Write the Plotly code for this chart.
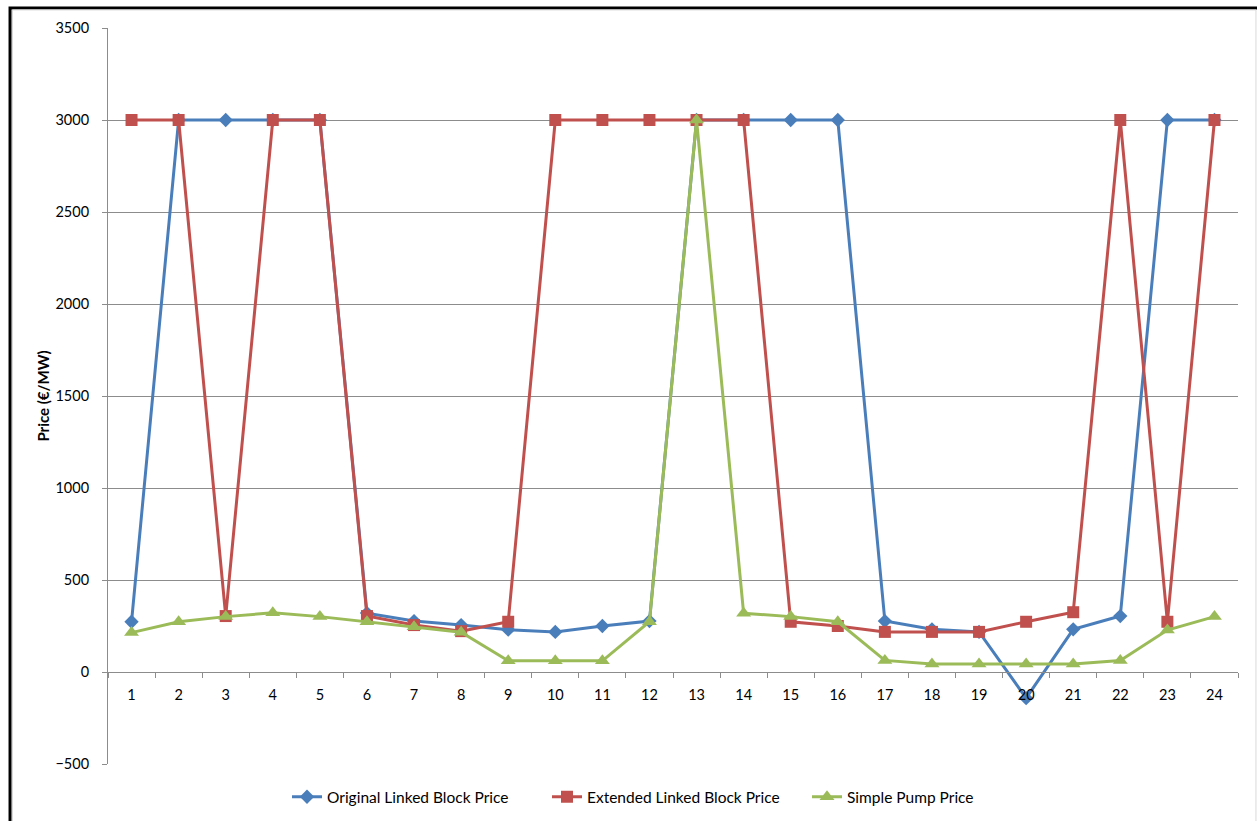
import plotly.graph_objects as go

# Hourly prices for the three pricing schemes (€/MW)
hours = list(range(1, 25))
hour_labels = [str(h) for h in hours]

original_linked_block = [273, 3000, 3000, 3000, 3000, 320, 277, 255, 230, 218, 250, 277,
                         3000, 3000, 3000, 3000, 277, 232, 218, -142, 232, 304, 3000, 3000]
extended_linked_block = [3000, 3000, 304, 3000, 3000, 304, 255, 222, 273, 3000, 3000, 3000,
                         3000, 3000, 273, 250, 218, 218, 218, 273, 325, 3000, 273, 3000]
simple_pump = [214, 273, 301, 322, 301, 273, 246, 216, 61, 61, 61, 273,
               3000, 319, 301, 273, 63, 43, 43, 43, 43, 63, 228, 301]

y_ticks = [-500, 0, 500, 1000, 1500, 2000, 2500, 3000, 3500]

FONT = "Lato"
GRID = "#8c8c8c"

series = [
    ("Original Linked Block Price", original_linked_block, "#4A7EBB", "diamond", 11),
    ("Extended Linked Block Price", extended_linked_block, "#C0504D", "square", 12),
    ("Simple Pump Price", simple_pump, "#9BBB59", "triangle-up", 13),
]

fig = go.Figure()
for name, values, color, symbol, size in series:
    fig.add_trace(go.Scatter(
        x=hours, y=values, name=name, mode="lines+markers",
        line=dict(color=color, width=3),
        marker=dict(symbol=symbol, size=size, color=color),
    ))

# carrier trace so the tick-mark axis is rendered
fig.add_trace(go.Scatter(x=[None], y=[None], xaxis="x2", showlegend=False,
                         hoverinfo="skip"))

zero_pos = (0 - y_ticks[0]) / (y_ticks[-1] - y_ticks[0])
x_range = [0.5, len(hours) + 0.5]

fig.update_layout(
    width=1257, height=821,
    margin=dict(l=108, r=19, t=28, b=57, autoexpand=False),
    paper_bgcolor="white", plot_bgcolor="white",
    font=dict(family=FONT, size=14, color="#000000"),
    showlegend=True,
    legend=dict(orientation="h", xref="container", yref="container",
                x=287 / 1257, y=0.029, xanchor="left", yanchor="middle",
                font=dict(family=FONT, size=15.5), itemwidth=30,
                entrywidth=215, entrywidthmode="pixels",
                bgcolor="rgba(0,0,0,0)"),
    xaxis=dict(range=x_range, tickmode="array", tickvals=hours, ticktext=hour_labels,
               anchor="free", position=zero_pos, showgrid=False, zeroline=False,
               showline=False, ticks="", ticklabelstandoff=12,
               tickfont=dict(family=FONT, size=14.5)),
    xaxis2=dict(range=x_range, overlaying="x", anchor="free", position=zero_pos,
                tickmode="array", tickvals=[h + 0.5 for h in [0] + hours],
                showticklabels=False, ticks="outside", ticklen=5, tickcolor=GRID,
                showline=True, linecolor=GRID, linewidth=1, showgrid=False,
                zeroline=False),
    yaxis=dict(range=[y_ticks[0], y_ticks[-1]], tickmode="array", tickvals=y_ticks,
               showgrid=True, gridcolor=GRID, gridwidth=1, zeroline=False,
               showline=True, linecolor=GRID, linewidth=1,
               ticks="outside", ticklen=5, tickcolor=GRID, ticklabelstandoff=10,
               tickfont=dict(family=FONT, size=14.5),
               title=dict(text="Price (€/MW)", standoff=2,
                          font=dict(family=FONT, size=15, weight="bold"))),
    shapes=[
        dict(type="rect", xref="paper", yref="paper", x0=-0.0867, x1=1.06,
             y0=-0.1, y1=1.0272, line=dict(color="black", width=3), layer="below"),
        dict(type="rect", xref="paper", yref="paper", x0=-0.0845, x1=1.0159,
             y0=-0.1, y1=1.0245, line=dict(color="#d9d9d9", width=1), layer="below"),
    ],
)

fig.write_html("out.html")
